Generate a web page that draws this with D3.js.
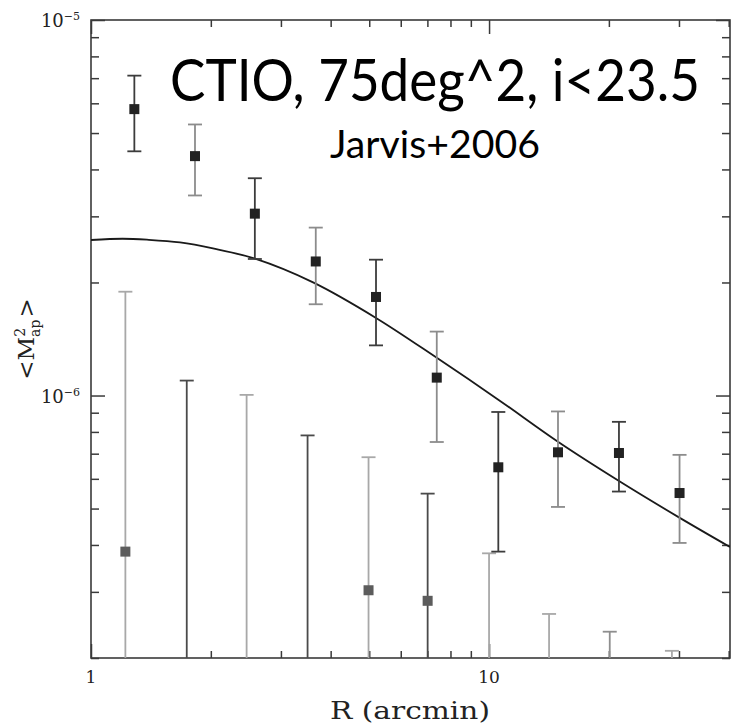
<!DOCTYPE html>
<html>
<head>
<meta charset="utf-8">
<script src="https://cdn.jsdelivr.net/npm/d3@7"></script>
<style>
  body { margin: 0; background: #fff; }
  svg { display: block; }
</style>
</head>
<body>
<svg id="chart" width="731" height="726"></svg>
<script>
// E-mode aperture mass dispersion (points with symmetric errors)
const eR   = [1.285, 1.825, 2.58, 3.67, 5.20, 7.39, 10.55, 14.9, 21.2, 30.1];
const eVal = [5.79e-6, 4.34e-6, 3.05e-6, 2.275e-6, 1.83e-6, 1.116e-6, 6.44e-7, 7.06e-7, 7.03e-7, 5.50e-7];
const eErr = [1.32e-6, 0.93e-6, 0.74e-6, 0.525e-6, 0.47e-6, 0.364e-6, 2.60e-7, 2.01e-7, 1.48e-7, 1.45e-7];

// B-mode: upper end of each error bar; centre value where it lies on the plot
const bR   = [1.22, 1.74, 2.46, 3.50, 4.98, 7.01, 10.0, 14.15, 20.1, 28.8];
const bHi  = [1.89e-6, 1.096e-6, 1.004e-6, 7.83e-7, 6.85e-7, 5.48e-7, 3.80e-7, 2.62e-7, 2.35e-7, 2.09e-7];
const bVal = [3.84e-7, null, null, null, 3.03e-7, 2.84e-7, null, null, null, null];

// Model prediction
const mR   = [1.0, 1.2, 1.382, 1.673, 2.025, 2.583, 3.613, 5.20, 7.39, 10.55, 14.93, 21.21, 30.07, 40.3];
const mVal = [2.595e-6, 2.615e-6, 2.600e-6, 2.557e-6, 2.465e-6, 2.314e-6, 2.001e-6, 1.609e-6, 1.260e-6, 0.975e-6, 0.752e-6, 0.592e-6, 0.473e-6, 0.395e-6];

// Axis ticks
const xMajor = [1, 10];
const xMajorLabels = ["1", "10"];
const xMinor = [2, 3, 4, 5, 6, 7, 8, 9, 20, 30, 40];
const yMajor = [1e-6, 1e-5];
const yMajorExp = ["\u22126", "\u22125"];
const yMinor = [2e-7, 3e-7, 4e-7, 5e-7, 6e-7, 7e-7, 8e-7, 9e-7,
                2e-6, 3e-6, 4e-6, 5e-6, 6e-6, 7e-6, 8e-6, 9e-6];

const title = "CTIO, 75deg^2, i<23.5";
const subtitle = "Jarvis+2006";
const xTitle = "R (arcmin)";

const L = 91, R = 730, T = 20, B = 658;
const svg = d3.select("#chart");

const x = d3.scaleLog().domain([1, 40.3]).range([L, R]);
const y = d3.scaleLog().domain([2.0e-7, 1e-5]).range([B, T]);

const axisColor = "#3a3a3a";
const serif = "'DejaVu Serif', 'Liberation Serif', serif";
const sans = "Lato, 'Open Sans', sans-serif";

svg.append("defs").append("clipPath").attr("id", "plot")
  .append("rect").attr("x", L).attr("y", T).attr("width", R - L).attr("height", B - T);

// Tick marks on all four sides, pointing inward
function ticks(axisFn, scale, values, len, transform) {
  const g = svg.append("g").attr("transform", transform)
    .call(axisFn(scale).tickValues(values).tickSize(-len).tickFormat(""));
  g.select(".domain").remove();
  g.selectAll(".tick line").attr("stroke", axisColor).attr("stroke-width", 1.5);
}
ticks(d3.axisBottom, x, xMajor, 14, `translate(0,${B})`);
ticks(d3.axisBottom, x, xMinor, 7, `translate(0,${B})`);
ticks(d3.axisTop, x, xMajor, 14, `translate(0,${T})`);
ticks(d3.axisTop, x, xMinor, 7, `translate(0,${T})`);
ticks(d3.axisLeft, y, yMajor, 14, `translate(${L},0)`);
ticks(d3.axisLeft, y, yMinor, 8, `translate(${L},0)`);
ticks(d3.axisRight, y, yMajor, 14, `translate(${R},0)`);
ticks(d3.axisRight, y, yMinor, 8, `translate(${R},0)`);

// Frame
svg.append("rect").attr("x", L).attr("y", T).attr("width", R - L).attr("height", B - T)
  .attr("fill", "none").attr("stroke", axisColor).attr("stroke-width", 1.6);

// Centred text squeezed horizontally to a given width
function fittedText(str, cx, cy, family, size, width, color) {
  const g = svg.append("g").attr("transform", `translate(${cx},${cy})`);
  const t = g.append("text").attr("text-anchor", "middle")
    .attr("font-family", family).attr("font-size", size).attr("fill", color).text(str);
  const w = t.node().getComputedTextLength();
  if (w > 0) t.attr("transform", `scale(${width / w},1)`);
  return t;
}

// Tick labels
svg.append("g").selectAll("text").data(xMajor).join("text")
  .attr("x", d => x(d)).attr("y", B + 25)
  .attr("text-anchor", "middle")
  .attr("font-family", serif).attr("font-size", 17).attr("fill", "#222")
  .text((d, i) => xMajorLabels[i]);

const yl = svg.append("g").selectAll("text").data(yMajor).join("text")
  .attr("x", 80).attr("y", d => y(d) + 7)
  .attr("text-anchor", "end")
  .attr("font-family", serif).attr("font-size", 18).attr("fill", "#222");
yl.append("tspan").text("10");
yl.append("tspan").attr("dy", -7).attr("font-size", 11).text((d, i) => yMajorExp[i]);

// Axis titles
fittedText(xTitle, 410, 719, serif, 24, 160, "#222");

const yt = svg.append("text").attr("transform", "translate(34,339) rotate(-90)")
  .attr("text-anchor", "middle").attr("font-family", serif).attr("font-size", 23).attr("fill", "#222");
yt.append("tspan").text("<M");
yt.append("tspan").attr("dy", -9).attr("font-size", 14).text("2");
yt.append("tspan").attr("dx", -9).attr("dy", 15).attr("font-size", 14).text("ap");
yt.append("tspan").attr("dx", 2).attr("dy", -6).text(">");

const plot = svg.append("g").attr("clip-path", "url(#plot)");

// Model curve
plot.append("path")
  .datum(mR.map((r, i) => [r, mVal[i]]))
  .attr("fill", "none").attr("stroke", "#1a1a1a").attr("stroke-width", 1.8)
  .attr("d", d3.line().x(d => x(d[0])).y(d => y(d[1])).curve(d3.curveCatmullRom.alpha(0.5)));

const cap = 7;
const darkBar = "#4a4a4a", lightBar = "#a8a8a8";

// B-mode error bars (lower ends run off the bottom of the plot)
const bData = bR.map((r, i) => ({ r, hi: bHi[i], v: bVal[i], i }));
const bg = plot.append("g").selectAll("g").data(bData).join("g")
  .attr("stroke", d => (d.i % 2 === 1 && d.i < 7) ? darkBar : (d.i === 8 ? "#8e8e8e" : lightBar))
  .attr("stroke-width", 1.8);
bg.append("line").attr("x1", d => x(d.r)).attr("x2", d => x(d.r))
  .attr("y1", d => y(d.hi)).attr("y2", B + 5);
bg.append("line").attr("x1", d => x(d.r) - cap).attr("x2", d => x(d.r) + cap)
  .attr("y1", d => y(d.hi)).attr("y2", d => y(d.hi));
plot.append("g").selectAll("rect").data(bData.filter(d => d.v !== null)).join("rect")
  .attr("x", d => x(d.r) - 5).attr("y", d => y(d.v) - 5)
  .attr("width", 10).attr("height", 10).attr("fill", "#5c5c5c");

// E-mode error bars and points
const eData = eR.map((r, i) => ({ r, v: eVal[i], e: eErr[i], i }));
const eg = plot.append("g").selectAll("g").data(eData).join("g")
  .attr("stroke", d => d.i % 2 === 0 ? "#3c3c3c" : "#8c8c8c").attr("stroke-width", 1.8);
eg.append("line").attr("x1", d => x(d.r)).attr("x2", d => x(d.r))
  .attr("y1", d => y(d.v + d.e)).attr("y2", d => y(d.v - d.e));
eg.append("line").attr("x1", d => x(d.r) - cap).attr("x2", d => x(d.r) + cap)
  .attr("y1", d => y(d.v + d.e)).attr("y2", d => y(d.v + d.e));
eg.append("line").attr("x1", d => x(d.r) - cap).attr("x2", d => x(d.r) + cap)
  .attr("y1", d => y(d.v - d.e)).attr("y2", d => y(d.v - d.e));
plot.append("g").selectAll("rect").data(eData).join("rect")
  .attr("x", d => x(d.r) - 5).attr("y", d => y(d.v) - 5)
  .attr("width", 10).attr("height", 10).attr("fill", "#222");

// Annotation
fittedText(title, 435, 101, sans, 58, 530, "#000");
fittedText(subtitle, 435, 158, sans, 38, 210, "#000");
</script>
</body>
</html>
